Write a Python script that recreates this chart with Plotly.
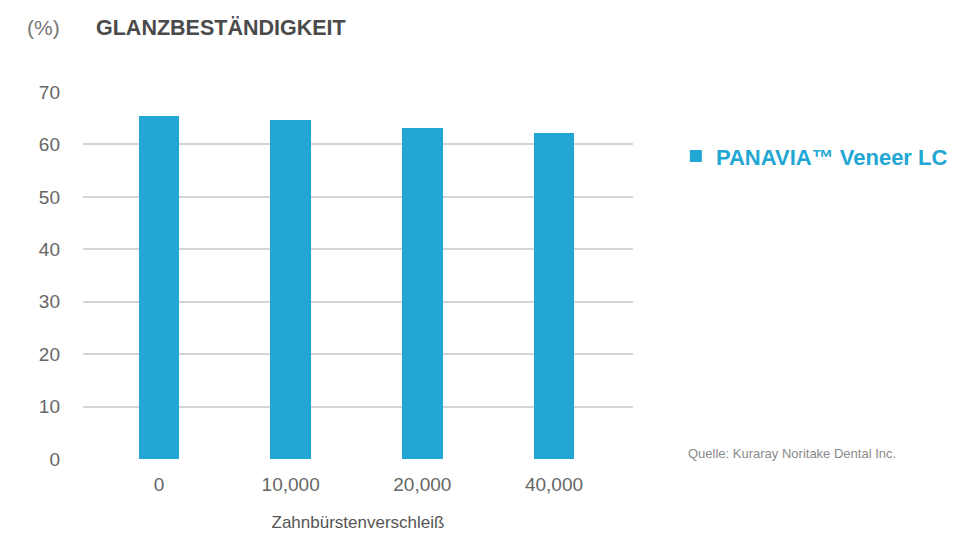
import plotly.graph_objects as go

categories = ["0", "10,000", "20,000", "40,000"]
values = [65.5, 64.6, 63.2, 62.1]
series_name = "PANAVIA™ Veneer LC"
y_ticks = [0, 10, 20, 30, 40, 50, 60, 70]

FONT = "Liberation Sans, Arial, sans-serif"
BLUE = "#22a7d4"

x_pos = list(range(len(categories)))

fig = go.Figure()
fig.add_trace(go.Bar(
    x=x_pos, y=values, name=series_name, width=0.31,
    marker=dict(color=BLUE, line=dict(width=0)),
    showlegend=True,
))

fig.update_layout(
    width=970, height=533,
    margin=dict(l=83, r=337, t=92, b=74, autoexpand=False),
    paper_bgcolor="white", plot_bgcolor="white",
    font=dict(family=FONT, color="#666666"),
    bargap=0,
    xaxis=dict(
        range=[-0.577, 3.6], tickvals=x_pos, ticktext=categories,
        showgrid=False, zeroline=False, showline=False, ticks="",
        ticklabelstandoff=12, automargin=False,
        tickfont=dict(size=19, color="#666666"),
        title=dict(text="Zahnbürstenverschleiß", font=dict(size=17, color="#555555"), standoff=22),
    ),
    yaxis=dict(
        range=[0, 70], tickvals=y_ticks, showgrid=True, gridcolor="#d4d4d4", gridwidth=1.5,
        zeroline=False, showline=False, ticks="", ticklabelstandoff=22, automargin=False,
        tickfont=dict(size=19, color="#666666"),
    ),
    legend=dict(
        x=1.078, y=0.825, xanchor="left", yanchor="middle",
        font=dict(size=22, color=BLUE, weight="bold"),
        bgcolor="rgba(0,0,0,0)", itemwidth=30,
    ),
    showlegend=True,
)

fig.add_annotation(xref="paper", yref="paper", x=-0.105, y=1.175, xanchor="left", yanchor="middle",
                   text="(%)", showarrow=False, font=dict(size=21, color="#777777"))
fig.add_annotation(xref="paper", yref="paper", x=0.02, y=1.175, xanchor="left", yanchor="middle",
                   text="<b>GLANZBESTÄNDIGKEIT</b>", showarrow=False,
                   font=dict(size=21.5, color="#4a4a4a"))
fig.add_annotation(xref="paper", yref="paper", x=1.097, y=0.015, xanchor="left", yanchor="middle",
                   text="Quelle: Kuraray Noritake Dental Inc.", showarrow=False,
                   font=dict(size=13, color="#8a8a8a"))

fig.write_html("out.html", config={"displayModeBar": False},
               post_script="document.body.style.margin='0';")
